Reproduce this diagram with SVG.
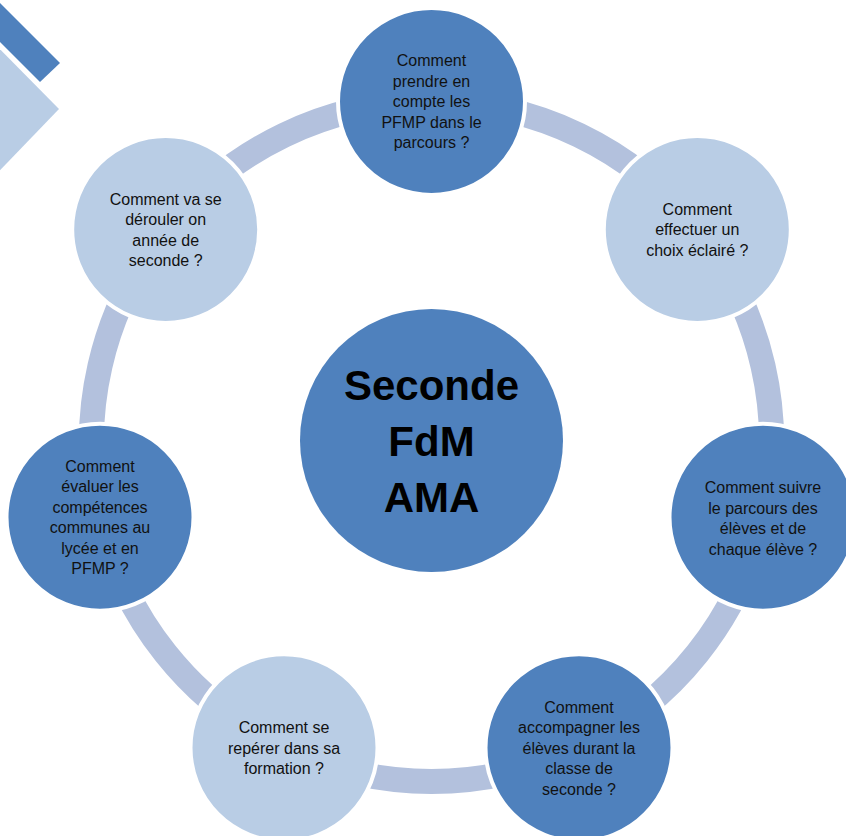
<svg xmlns="http://www.w3.org/2000/svg" width="846" height="836" viewBox="0 0 846 836">
  <defs>
    <style>
      .arc { fill: none; stroke: #b3c1dd; stroke-width: 25; }
      .dark { fill: #4f81bd; stroke: #ffffff; stroke-width: 4; }
      .light { fill: #b9cde5; stroke: #ffffff; stroke-width: 4; }
      .lbl { font-family: "Liberation Sans", Arial, sans-serif; font-size: 16px; fill: #111111; text-anchor: middle; }
      .title { font-family: "Liberation Sans", Arial, sans-serif; font-size: 42px; font-weight: bold; fill: #000000; text-anchor: middle; }
    </style>
  </defs>
  <rect width="846" height="836" fill="#ffffff"/>
  <g id="decor">
    <polygon points="-20,-17 60,63 40,82 -20,22" fill="#4f81bd"/>
    <polygon points="-20,29 59,109 -20,191" fill="#b9cde5"/>
  </g>
  <g id="connectors">
    <path class="arc" d="M431.5,101.5 A340,340 0 0 1 697.3,229.5"/>
    <path class="arc" d="M697.3,229.5 A340,340 0 0 1 763,517.2"/>
    <path class="arc" d="M763,517.2 A340,340 0 0 1 579,747.8"/>
    <path class="arc" d="M579,747.8 A340,340 0 0 1 284,747.8"/>
    <path class="arc" d="M284,747.8 A340,340 0 0 1 100,517.2"/>
    <path class="arc" d="M100,517.2 A340,340 0 0 1 165.7,229.5"/>
    <path class="arc" d="M165.7,229.5 A340,340 0 0 1 431.5,101.5"/>
  </g>
  <g id="center">
    <circle cx="431.5" cy="440.5" r="131.5" fill="#4f81bd"/>
    <text class="title" x="431.5" y="400">Seconde</text>
    <text class="title" x="431.5" y="456">FdM</text>
    <text class="title" x="431.5" y="512">AMA</text>
  </g>
  <g id="node-top">
    <circle class="dark" cx="431.5" cy="101.5" r="93.5"/>
    <text class="lbl" x="431.5" y="66">Comment</text>
    <text class="lbl" x="431.5" y="86.5">prendre en</text>
    <text class="lbl" x="431.5" y="107">compte les</text>
    <text class="lbl" x="431.5" y="127.5">PFMP dans le</text>
    <text class="lbl" x="431.5" y="148">parcours ?</text>
  </g>
  <g id="node-top-right">
    <circle class="light" cx="697.3" cy="229.5" r="93.5"/>
    <text class="lbl" x="697.3" y="214.5">Comment</text>
    <text class="lbl" x="697.3" y="235">effectuer un</text>
    <text class="lbl" x="697.3" y="255.5">choix éclairé ?</text>
  </g>
  <g id="node-right">
    <circle class="dark" cx="763" cy="517.2" r="93.5"/>
    <text class="lbl" x="763" y="493">Comment suivre</text>
    <text class="lbl" x="763" y="513.5">le parcours des</text>
    <text class="lbl" x="763" y="534">élèves et de</text>
    <text class="lbl" x="763" y="554.5">chaque élève ?</text>
  </g>
  <g id="node-bottom-right">
    <circle class="dark" cx="579" cy="747.8" r="93.5"/>
    <text class="lbl" x="579" y="712.5">Comment</text>
    <text class="lbl" x="579" y="733">accompagner les</text>
    <text class="lbl" x="579" y="753.5">élèves durant la</text>
    <text class="lbl" x="579" y="774">classe de</text>
    <text class="lbl" x="579" y="794.5">seconde ?</text>
  </g>
  <g id="node-bottom-left">
    <circle class="light" cx="284" cy="747.8" r="93.5"/>
    <text class="lbl" x="284" y="733">Comment se</text>
    <text class="lbl" x="284" y="753.5">repérer dans sa</text>
    <text class="lbl" x="284" y="774">formation ?</text>
  </g>
  <g id="node-left">
    <circle class="dark" cx="100" cy="517.2" r="93.5"/>
    <text class="lbl" x="100" y="471.5">Comment</text>
    <text class="lbl" x="100" y="492">évaluer les</text>
    <text class="lbl" x="100" y="512.5">compétences</text>
    <text class="lbl" x="100" y="533">communes au</text>
    <text class="lbl" x="100" y="553.5">lycée et en</text>
    <text class="lbl" x="100" y="574">PFMP ?</text>
  </g>
  <g id="node-top-left">
    <circle class="light" cx="165.7" cy="229.5" r="93.5"/>
    <text class="lbl" x="165.7" y="204.5">Comment va se</text>
    <text class="lbl" x="165.7" y="225">dérouler on</text>
    <text class="lbl" x="165.7" y="245.5">année de</text>
    <text class="lbl" x="165.7" y="266">seconde ?</text>
  </g>
</svg>
